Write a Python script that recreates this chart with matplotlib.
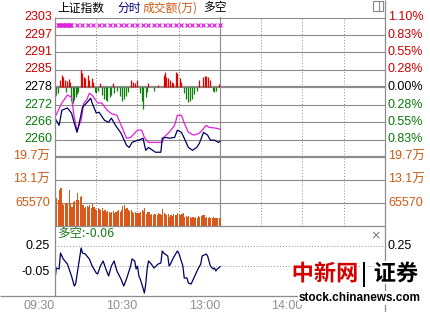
import matplotlib
matplotlib.use('Agg')
import matplotlib.pyplot as plt
import matplotlib.patheffects as pe
from matplotlib.lines import Line2D
from matplotlib.patches import Rectangle
from matplotlib.transforms import blended_transform_factory as blend
import numpy as np

W, H = 431, 312
LAT = ['Liberation Sans', 'Noto Sans CJK SC']
CJK = ['Noto Sans CJK SC', 'DejaVu Sans']

# ── data ──────────────────────────────────────────────────────────────────────
BASE = 2278.0          # previous close
STEP = 6.25
price_labels = ['2303', '2297', '2291', '2285', '2278', '2272', '2266', '2260']
pct_labels = ['1.10%', '0.83%', '0.55%', '0.28%', '0.00%', '0.28%', '0.55%', '0.83%']

# index (navy) and average (magenta), minutes from 09:30
idx_min = [0, 3, 5, 9, 12, 14, 16, 17, 20, 23, 26, 27, 30, 32, 36, 39, 41, 44, 48, 52,
           54, 56, 60, 61, 64, 66, 68, 71, 73, 77, 78, 81, 83, 87, 89, 92, 94, 97, 100,
           103, 105, 108, 111, 113, 116, 119, 120]
idx_val = [2266.9, 2264.3, 2269.7, 2270.5, 2268.7, 2265.1, 2261.8, 2263.6, 2270.8, 2272.3,
           2274.0, 2272.3, 2268.7, 2269.0, 2266.1, 2265.4, 2266.9, 2264.3, 2261.5, 2257.2,
           2256.4, 2258.2, 2259.0, 2259.0, 2259.7, 2255.4, 2256.4, 2255.4, 2254.7, 2254.7,
           2259.7, 2260.0, 2259.7, 2260.0, 2262.6, 2261.8, 2259.7, 2256.4, 2255.4, 2256.4,
           2257.9, 2261.8, 2260.8, 2259.0, 2259.0, 2258.2, 2258.6]
avg_min = [0, 5, 9, 12, 14, 16, 19, 21, 23, 25, 27, 31, 34, 38, 41, 45, 49, 52, 55, 60,
           63, 65, 68, 73, 78, 79, 83, 87, 89, 92, 94, 97, 101, 105, 110, 112, 117, 120]
avg_val = [2267.2, 2272.3, 2275.1, 2274.4, 2267.2, 2262.6, 2266.1, 2272.3, 2273.3, 2275.8,
           2275.1, 2272.3, 2272.3, 2269.7, 2268.5, 2267.9, 2263.3, 2259.7, 2260.0, 2262.6,
           2262.6, 2260.0, 2258.2, 2258.2, 2258.2, 2260.0, 2261.8, 2264.3, 2267.9, 2267.9,
           2265.1, 2261.8, 2260.8, 2261.5, 2264.3, 2263.6, 2263.3, 2262.9]

# buy/sell strength bars around the previous close (index points)
up_min = [4, 5, 6, 7, 9, 10, 11, 19, 20, 21, 22, 24, 25, 27, 28, 33, 42, 55, 57, 58, 60,
          68, 75, 79, 80, 81, 82, 84, 85, 86, 88, 89, 91, 92, 105, 108, 109, 110, 111,
          113, 119]
up_val = [2.5, 4.3, 3.6, 2.5, 2.2, 2.9, 1.8, 6.1, 5.0, 3.6, 3.2, 4.3, 2.5, 3.2, 1.8, 1.4,
          1.4, 2.5, 1.8, 1.4, 2.5, 1.4, 0.7, 4.3, 5.4, 3.6, 3.2, 2.5, 1.8, 1.4, 5.4, 5.0,
          3.2, 1.8, 2.5, 3.6, 4.0, 4.0, 3.6, 2.5, 1.1]
dn_min = [0, 1, 2, 8, 12, 13, 14, 15, 16, 17, 29, 30, 31, 34, 36, 37, 38, 40, 41, 43, 45,
          47, 49, 50, 52, 53, 62, 63, 64, 66, 67, 72, 94, 95, 97, 98, 100, 101, 103, 115,
          116, 117]
dn_val = [3.6, 2.9, 2.2, 1.8, 5.0, 5.7, 4.7, 3.6, 2.5, 1.8, 1.8, 2.2, 1.4, 2.9, 4.3, 4.7,
          5.0, 3.6, 2.9, 2.2, 1.4, 3.2, 5.0, 4.3, 3.2, 1.8, 2.2, 5.0, 7.9, 3.6, 1.8, 1.4,
          2.2, 4.3, 5.4, 5.0, 4.3, 2.5, 1.4, 1.4, 1.8, 1.4]

# maxed-out markers along the top
mark_min = [2, 3, 4, 5, 6, 7, 8, 9, 10, 11, 12, 16, 20, 24, 28, 32, 36, 40, 44, 48, 52,
            56, 60, 64, 68, 72, 76, 80, 84, 88, 92, 96, 100, 104, 108, 112, 116, 120]
mark_val = 2300.3

# turnover per minute, unit 万
vol = [18.4, 8.0, 7.5, 10.3, 10.9, 6.6, 6.0, 6.6, 6.6, 6.3,
       10.3, 6.6, 5.5, 6.9, 7.2, 7.5, 9.5, 7.5, 8.3, 8.6,
       6.0, 5.2, 5.5, 5.7, 5.5, 6.0, 5.2, 6.3, 5.5, 4.9,
       4.6, 5.2, 4.9, 4.6, 5.2, 4.3, 4.6, 4.0, 4.3, 4.0,
       3.7, 4.0, 4.3, 3.7, 4.0, 4.3, 4.6, 4.0, 4.6, 5.7,
       6.0, 4.9, 5.2, 4.6, 4.3, 4.6, 4.0, 3.7, 4.0, 3.7,
       3.7, 3.7, 4.0, 4.6, 4.3, 5.2, 3.4, 4.0, 4.0, 3.2,
       3.4, 3.2, 3.4, 3.4, 3.2, 3.7, 3.4, 3.2, 4.9, 3.7,
       3.4, 3.2, 3.4, 2.6, 3.2, 2.9, 3.4, 3.2, 3.2, 3.7,
       3.4, 3.2, 3.4, 3.7, 2.6, 2.9, 2.6, 2.9, 2.6, 2.3,
       2.6, 2.3, 2.6, 2.3, 2.9, 2.6, 2.9, 3.2, 3.2, 2.3,
       2.6, 2.3, 2.6, 2.3, 2.3, 2.6, 2.3, 2.3, 2.3, 2.3, 2.3]
vol_ticks = [19.7, 13.1, 6.557]
vol_labels = ['19.7万', '13.1万', '65570']

# 多空 indicator
dk_min = [0, 1, 3, 4, 6, 9, 12, 14, 15, 17, 19, 20, 22, 25, 27, 30, 31, 33, 35, 37,
          39, 41, 43, 45, 48, 50, 52, 55, 56, 58, 59, 60, 61, 62, 64, 65, 66, 67, 68, 70,
          72, 75, 77, 78, 79, 82, 83, 84, 86, 89, 90, 93, 94, 96, 97, 99, 101, 104, 106, 107,
          110, 111, 113, 115, 116, 117, 118, 120]
dk_val = [-0.245, -0.08, -0.095, 0.145, 0.055, -0.02, -0.2, -0.35, -0.32, -0.05,
          0.22, 0.145, 0.13, 0.055, -0.05, -0.155, -0.17, -0.05, 0.025, -0.095,
          -0.2, -0.05, 0.025, -0.125, -0.245, -0.35, -0.245, -0.05, 0.055, 0.025,
          -0.095, -0.05, -0.2, -0.245, -0.38, -0.455, -0.32, -0.095, 0.025, -0.02,
          -0.08, -0.02, -0.005, 0.175, 0.145, 0.1, -0.05, -0.02, 0.07, 0.175,
          0.145, -0.05, -0.23, -0.23, -0.305, -0.32, -0.23, -0.095, -0.02, 0.1,
          0.13, 0.1, -0.05, -0.095, -0.08, -0.125, -0.095, -0.06]
dk_ticks = [0.25, -0.05]

time_ticks = [0, 60, 120, 180]
time_labels = ['09:30', '10:30', '13:00', '14:00']

RED, GREEN, GRAY = '#cc0000', '#0a7a0a', '#8c8c8c'
ORANGE = '#d9581a'

# ── helpers ───────────────────────────────────────────────────────────────────
fig = plt.figure(figsize=(W / 100, H / 100), dpi=100)
fig.patch.set_facecolor('white')


def rect(x0, y0, x1, y1):
    return [x0 / W, 1 - y1 / H, (x1 - x0) / W, (y1 - y0) / H]


def fline(x0, y0, x1, y1, lw=0.75, color=GRAY):
    fig.add_artist(Line2D([x0 / W, x1 / W], [1 - y0 / H, 1 - y1 / H],
                          transform=fig.transFigure, lw=lw, color=color,
                          solid_capstyle='butt'))


def ftext(x, y, s, **kw):
    fig.text(x / W, 1 - y / H, s, **kw)


def panel(box):
    ax = fig.add_axes(rect(*box))
    ax.set_xlim(0, 240)
    ax.set_xticks([]); ax.set_yticks([])
    for sp in ax.spines.values():
        sp.set_visible(False)
    ax.patch.set_alpha(0)
    return ax


def vgrid(ax):
    for m in (30, 60, 90, 150, 180, 210):
        ax.axvline(m, color=GRAY, lw=0.7, ls=(0, (1, 2)), zorder=1)
    ax.axvline(120, color=GRAY, lw=0.8, zorder=1)


# ── price panel ───────────────────────────────────────────────────────────────
ax = panel((55, 17, 385, 157))
ax.set_ylim(BASE - 4 * STEP, BASE + 4 * STEP)
vgrid(ax)
levels = [BASE + STEP * k for k in range(4, -4, -1)]
for lv in levels[1:]:
    ax.axhline(lv, color=GRAY, lw=0.8 if lv != BASE else 1.6, zorder=1)

ax.vlines(up_min, BASE, [BASE + v for v in up_val], color='#e00000', lw=0.9, zorder=2)
ax.vlines(dn_min, BASE, [BASE - v for v in dn_val], color='#0f7f0f', lw=0.9, zorder=2)
ax.plot(avg_min, avg_val, color='#e020e0', lw=0.9, zorder=3)
ax.plot(idx_min, idx_val, color='#000060', lw=0.9, zorder=4)
ax.plot(mark_min, [mark_val] * len(mark_min), ls='none', marker='x', ms=3,
        mew=0.9, color='#e020e0', zorder=4)

tl = blend(fig.transFigure, ax.transData)
for lv, lab, pct in zip(levels, price_labels, pct_labels):
    c = RED if lv > BASE else (GREEN if lv < BASE else 'black')
    ax.text(52 / W, lv, lab, transform=tl, ha='right', va='center',
            color=c, fontsize=9, family=LAT)
    ax.text(388 / W, lv, pct, transform=tl, ha='left', va='center',
            color=c, fontsize=9, family=LAT)

# ── volume panel ──────────────────────────────────────────────────────────────
av = panel((55, 157, 385, 226))
av.set_ylim(0, 19.7)
vgrid(av)
for t in vol_ticks[1:]:
    av.axhline(t, color=GRAY, lw=0.8, zorder=1)
av.bar(np.arange(len(vol)), vol, width=0.75, color=ORANGE, align='edge', zorder=2)
tv = blend(fig.transFigure, av.transData)
for t, lab in zip(vol_ticks, vol_labels):
    av.text(50 / W, t, lab, transform=tv, ha='right', va='center',
            color='#cc5a14', fontsize=9, family=LAT)
    av.text(388 / W, t, lab, transform=tv, ha='left', va='center',
            color='#cc5a14', fontsize=9, family=LAT)

# ── 多空 panel ────────────────────────────────────────────────────────────────
ad = panel((55, 226, 385, 296))
ad.set_ylim(-0.5, 0.55)
for t in dk_ticks:
    ad.axhline(t, color=GRAY, lw=0.7, ls=(0, (1, 2)), zorder=1)
ad.plot(dk_min, dk_val, color='#000060', lw=0.9, zorder=3)
td = blend(fig.transFigure, ad.transData)
for t in dk_ticks:
    va = 'center' if t > 0 else 'top'
    ad.text(50 / W, t, f'{t:.2f}', transform=td, ha='right', va=va,
            color='black', fontsize=9, family=LAT)
# right-hand -0.05 is covered by the watermark in the source
ad.text(388 / W, dk_ticks[0], f'{dk_ticks[0]:.2f}', transform=td, ha='left',
        va='center', color='black', fontsize=9, family=LAT)
ad.text(2 / 330, 0.9, f'多空:{dk_val[-1]:.2f}', transform=ad.transAxes,
        ha='left', va='center', color='#1e7b1e', fontsize=9, family=CJK)
ftext(376, 236, '×', ha='center', va='center', color='#777777', fontsize=9)

for m, lab in zip(time_ticks, time_labels):
    ad.text(m, 0, lab, transform=blend(ad.transData, fig.transFigure),
            ha='right', va='bottom', color='#909090', fontsize=9, family=LAT)

# ── frame ─────────────────────────────────────────────────────────────────────
fline(55, 17.5, 385, 17.5)
fline(55, 157, 385, 157, lw=1.6)
fline(55, 226, 385, 226, lw=0.9)
fline(0, 296, 385, 296, lw=0.9)
fline(55, 17, 55, 296, lw=0.9)
fline(385, 0, 385, 312, lw=0.9)

# ── title row ─────────────────────────────────────────────────────────────────
ftext(57, 8, '上证指数', ha='left', va='center', color='black', fontsize=8.5, family=CJK)
ftext(117, 8, '分时', ha='left', va='center', color='#000080', fontsize=8.5, family=CJK)
ftext(143, 8, '成交额(万)', ha='left', va='center', color='#cc5a14', fontsize=8.5, family=CJK)
ftext(203, 8, '多空', ha='left', va='center', color='black', fontsize=8.5, family=CJK)
fig.add_artist(Rectangle((373 / W, 1 - 11 / H), 10 / W, 10 / H, transform=fig.transFigure,
                         fill=False, ec='#888888', lw=0.8))
fline(379, 1, 379, 11, lw=0.8, color='#888888')

# ── watermark ─────────────────────────────────────────────────────────────────
halo = [pe.withStroke(linewidth=3, foreground='white')]
ftext(325, 274, '中新网', ha='center', va='center', color='#d40000', fontsize=16,
      weight='bold', family=CJK, path_effects=halo)
ftext(364, 274, '|', ha='center', va='center', color='black', fontsize=16,
      weight='bold', family=CJK, path_effects=halo)
ftext(396, 274, '证券', ha='center', va='center', color='black', fontsize=16,
      weight='bold', family=CJK, path_effects=halo)
ftext(360, 298, 'stock.chinanews.com', ha='center', va='center', color='black',
      fontsize=8.5, weight='bold', family=LAT,
      bbox=dict(boxstyle='square,pad=0.1', fc='white', ec='none'))

fig.savefig('out.png', dpi=100, facecolor='white')
